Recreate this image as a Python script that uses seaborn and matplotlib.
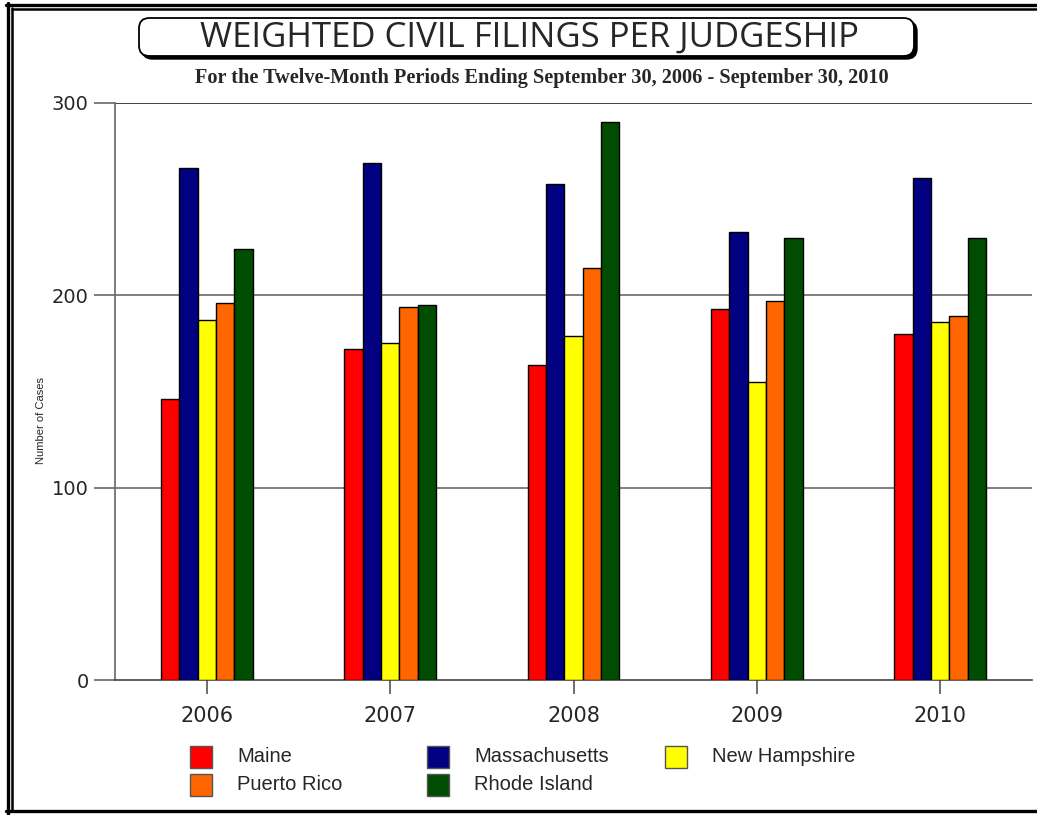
import matplotlib
matplotlib.use("Agg")
import matplotlib.pyplot as plt
import seaborn as sns
import pandas as pd
from matplotlib.patches import FancyBboxPatch, Rectangle
from matplotlib.lines import Line2D

years = ["2006", "2007", "2008", "2009", "2010"]
states = ["Maine", "Massachusetts", "New Hampshire", "Puerto Rico", "Rhode Island"]
maine = [146, 172, 164, 193, 180]
massachusetts = [266, 269, 258, 233, 261]
new_hampshire = [187, 175, 179, 155, 186]
puerto_rico = [196, 194, 214, 197, 189]
rhode_island = [224, 195, 290, 230, 230]
colors = ["#FF0000", "#000080", "#FFFF00", "#FF6600", "#004C00"]

series = [maine, massachusetts, new_hampshire, puerto_rico, rhode_island]
rows = []
for st, vals in zip(states, series):
    for y, v in zip(years, vals):
        rows.append({"Year": y, "State": st, "Cases": v})
df = pd.DataFrame(rows)

sns.set_style("white")
plt.rcParams["font.family"] = ["Liberation Sans", "DejaVu Sans"]

W, H = 1037, 815
fig = plt.figure(figsize=(W / 100, H / 100), dpi=100)
ax = fig.add_axes([115 / W, 1 - 680 / H, (1032 - 115) / W, (680 - 103) / H])

sns.barplot(data=df, x="Year", y="Cases", hue="State", hue_order=states,
            palette=colors, saturation=1, width=0.5, edgecolor="black", linewidth=1,
            ax=ax, legend=False, zorder=3)

ax.set_xlim(-0.5, 4.5)
ax.set_ylim(0, 300)
ax.set_yticks([0, 100, 200, 300])
ax.set_xlabel("")
ax.set_ylabel("Number of Cases", fontsize=8, family=["Liberation Sans Narrow", "Liberation Sans"])
ax.yaxis.set_label_coords((46 - 115) / 917, (680 - 420) / 577)

for v, c in [(100, "#6a6a6a"), (200, "#6a6a6a"), (300, "#222222")]:
    ax.axhline(v, color=c, lw=1.2, zorder=1)

for s in ["top", "right"]:
    ax.spines[s].set_visible(False)
ax.spines["left"].set_color("#666666")
ax.spines["left"].set_linewidth(1.2)
ax.spines["bottom"].set_color("#444444")
ax.spines["bottom"].set_linewidth(1.2)
ax.tick_params(axis="y", length=15, width=1.2, color="#666666", labelsize=14, pad=4, direction="out", left=True)
ax.tick_params(axis="x", length=10, width=1.2, color="#555555", labelsize=15, pad=9, direction="out", bottom=True)
for lab in ax.get_xticklabels() + ax.get_yticklabels():
    lab.set_family("DejaVu Sans")

def px(x, y):
    return x / W, 1 - y / H

# legend (manual, fixed column positions as in reference)
leg_pos = {"Maine": (190, 757), "Puerto Rico": (190, 785),
           "Massachusetts": (427, 757), "Rhode Island": (427, 785),
           "New Hampshire": (665, 757)}
sq = 22
for st, col in zip(states, colors):
    lx, ly = leg_pos[st]
    fig.add_artist(Rectangle(px(lx, ly + sq / 2), sq / W, sq / H, transform=fig.transFigure,
                             fc=col, ec="#555555", lw=1))
    fig.text(*px(lx + 47, ly), st, ha="left", va="center", fontsize=14.5)

# title box with shadow
x0, y0, x1, y1 = 139, 18, 914, 56
sh = FancyBboxPatch(px(x0 + 3, y1 + 3), (x1 - x0) / W, (y1 - y0) / H,
                    boxstyle="round,pad=0,rounding_size=0.01", transform=fig.transFigure,
                    fc="black", ec="black", lw=1, mutation_aspect=W / H)
bx = FancyBboxPatch(px(x0, y1), (x1 - x0) / W, (y1 - y0) / H,
                    boxstyle="round,pad=0,rounding_size=0.01", transform=fig.transFigure,
                    fc="white", ec="black", lw=1.3, mutation_aspect=W / H)
fig.add_artist(sh)
fig.add_artist(bx)
fig.text(*px(529, 38), "WEIGHTED CIVIL FILINGS PER JUDGESHIP", ha="center", va="center",
         fontsize=25, family=["Open Sans", "Lato", "DejaVu Sans"], fontweight="normal")
fig.text(*px(542, 78), "For the Twelve-Month Periods Ending September 30, 2006 - September 30, 2010",
         ha="center", va="center", fontsize=14.6, family=["Liberation Serif"], fontweight="bold")

# frame lines
def hline(y, xa, xb, lw):
    fig.add_artist(Line2D([xa / W, xb / W], [1 - y / H, 1 - y / H], transform=fig.transFigure, color="black", lw=lw))
def vline(x, ya, yb, lw):
    fig.add_artist(Line2D([x / W, x / W], [1 - ya / H, 1 - yb / H], transform=fig.transFigure, color="black", lw=lw))

hline(4.5, 6, W, 2.4)
vline(7.5, 3, H, 2.4)
hline(9, 12, W, 1.8)
vline(12, 8, 811, 1.8)
hline(810.5, 6, W, 2.4)

fig.savefig("out.png", dpi=100)
